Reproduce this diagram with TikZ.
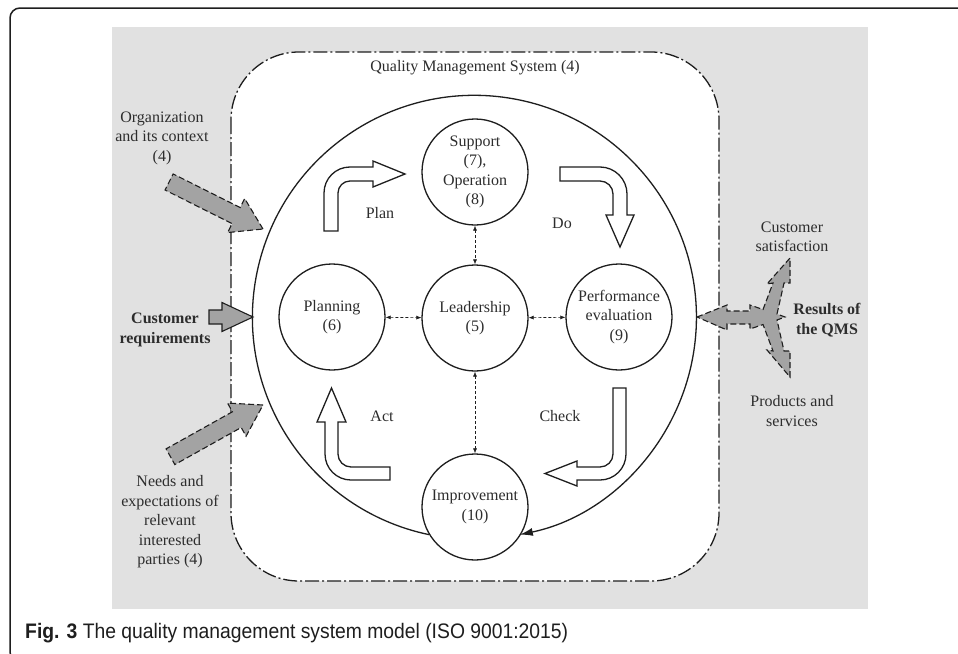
\documentclass[tikz,border=0pt]{standalone}
\usepackage{fontspec}
\setmainfont{Liberation Serif}
\newfontfamily\capfont[FakeStretch=0.92]{Liberation Sans}
\usetikzlibrary{arrows.meta}
\definecolor{bggray}{RGB}{225,225,225}
\definecolor{arrgray}{RGB}{163,163,163}
\definecolor{txt}{RGB}{45,45,45}
\definecolor{ink}{RGB}{30,30,30}
\begin{document}
\begin{tikzpicture}[x=1pt,y=-1pt,
  lbl/.style={font=\fontsize{16}{19.5}\selectfont, text=txt, align=center, inner sep=0pt},
  blbl/.style={font=\fontsize{16}{19.5}\selectfont\bfseries, text=txt, align=center, inner sep=0pt},
  circ/.style={circle, draw=ink, line width=1.3pt, fill=white, minimum size=106pt, inner sep=0pt,
    font=\fontsize{16}{19.5}\selectfont, text=txt, align=center},
  bent/.style={draw=ink, line width=1.3pt, fill=white, line join=miter},
  blk/.style={draw=ink, line width=1.1pt, fill=arrgray, dash pattern=on 6pt off 3pt, line join=miter},
  blksolid/.style={draw=ink, line width=1.1pt, fill=arrgray, line join=miter},
  link/.style={draw=ink, line width=0.6pt, dash pattern=on 3pt off 2pt,
    {Latex[length=5pt,width=4pt]}-{Latex[length=5pt,width=4pt]}},
  qmsbox/.style={draw=ink, line width=1.3pt, fill=white, rounded corners=68pt,
    dash pattern=on 14pt off 3pt on 2pt off 3pt},
  cycarc/.style={draw=ink, line width=1.3pt, -{Latex[length=13pt,width=8pt]}}
]
\useasboundingbox (0,0) rectangle (958,653);
\clip (0,0) rectangle (958,653);
\fill[white] (0,0) rectangle (958,653);

% gray background
\fill[bggray] (112,27) rectangle (868,609);

% QMS dash-dot box
\draw[qmsbox] (231,52) rectangle (719,581);
\node[lbl] (qmstitle) at (475,68) {Quality Management System (4)};

% circles
\node[circ] (supp) at (475,172) {Support\\(7),\\Operation\\(8)};
\node[circ] (plan) at (332,317) {Planning\\(6)};
\node[circ] (lead) at (475,318) {Leadership\\(5)};
\node[circ] (perf) at (619,317) {Performance\\evaluation\\(9)};
\node[circ] (impr) at (475,507) {Improvement\\(10)};

% big cycle arc
\draw[cycarc] (impr.211) arc[start angle=101.8, end angle=438.2, radius=222];

% links
\draw[link] (plan) -- (lead);
\draw[link] (lead) -- (perf);
\draw[link] (supp) -- (lead);
\draw[link] (lead) -- (impr);

% bent arrows: Plan, Do, Act, Check
\draw[bent] (324,231) -- (324,193) .. controls (324,178.6) and (335.6,167) .. (350,167)
  -- (373,167) -- (373,161) -- (405,174) -- (373,187) -- (373,181) -- (350,181)
  .. controls (343.4,181) and (338,186.4) .. (338,193) -- (338,231) -- cycle;
\draw[bent] (560,167) -- (600,167) .. controls (614.9,167) and (627,179.1) .. (627,194)
  -- (627,215) -- (634,215) -- (620,247) -- (606,215) -- (613,215) -- (613,194)
  .. controls (613,186.8) and (607.2,181) .. (600,181) -- (560,181) -- cycle;
\draw[bent] (331.5,388) -- (346,422) -- (338,422) -- (338,454)
  .. controls (338,461.2) and (343.8,467) .. (351,467) -- (390,467) -- (390,480) -- (351,480)
  .. controls (336.6,480) and (325,468.4) .. (325,454) -- (325,422) -- (317,422) -- cycle;
\draw[bent] (613,388) -- (626,388) -- (626,454)
  .. controls (626,468.4) and (614.4,480) .. (600,480) -- (577,480) -- (577,486) -- (545,473.5)
  -- (577,461) -- (577,467) -- (600,467) .. controls (607.2,467) and (613,461.2) .. (613,454) -- cycle;

\node[lbl] (plantxt) at (380,213) {Plan};
\node[lbl] (dotxt) at (562,223) {Do};
\node[lbl] (acttxt) at (382,416) {Act};
\node[lbl] (checktxt) at (560,416) {Check};

% input arrows
\begin{scope}[shift={(263,229)}, rotate=-26.6]
  \draw[blk] (0,0) -- (-30,-19) -- (-30,-9) -- (-105,-9) -- (-105,9) -- (-30,9) -- (-30,19) -- cycle;
\end{scope}
\begin{scope}[shift={(263,405)}, rotate=29.2]
  \draw[blk] (0,0) -- (-30,-19) -- (-30,-9) -- (-106,-9) -- (-106,9) -- (-30,9) -- (-30,19) -- cycle;
\end{scope}
\draw[blksolid] (253,317) -- (222,302.5) -- (222,310) -- (209,310) -- (209,324) -- (222,324) -- (222,331.5) -- cycle;

% results arrow
\draw[blk] (697,317) -- (727,305) -- (727,311) -- (750,311) -- (750,305) -- (763,309.5)
  -- (773,283) -- (767,284) -- (790,258) -- (790,283) -- (784,283) -- (777,314) -- (785,317)
  -- (777,320) -- (784,351) -- (790,351) -- (790,377) -- (767,350) -- (773,351) -- (763,324.5)
  -- (750,329) -- (750,324) -- (727,324) -- (727,330) -- cycle;

% outside labels
\node[lbl] (orgtxt) at (162,138) {Organization\\and its context\\(4)};
\node[blbl] (custtxt) at (165,330) {Customer\\requirements};
\node[lbl] (needtxt) at (170,522) {Needs and\\expectations of\\relevant\\interested\\parties (4)};
\node[lbl] (sattxt) at (792,237) {Customer\\satisfaction};
\node[blbl] (restxt) at (827,320) {Results of\\the QMS};
\node[lbl] (prodtxt) at (792,411) {Products and\\services};

% caption
\node[anchor=base west, inner sep=0pt, text=ink, font=\capfont\fontsize{21}{25}\selectfont] (cap) at (25,638)
  {\textbf{Fig. 3} The quality management system model (ISO 9001:2015)};

% frame
\draw[ink, line width=1.5pt, rounded corners=10pt] (970,8) -- (10,8) -- (10,662) -- (40,662);
\end{tikzpicture}
\end{document}
